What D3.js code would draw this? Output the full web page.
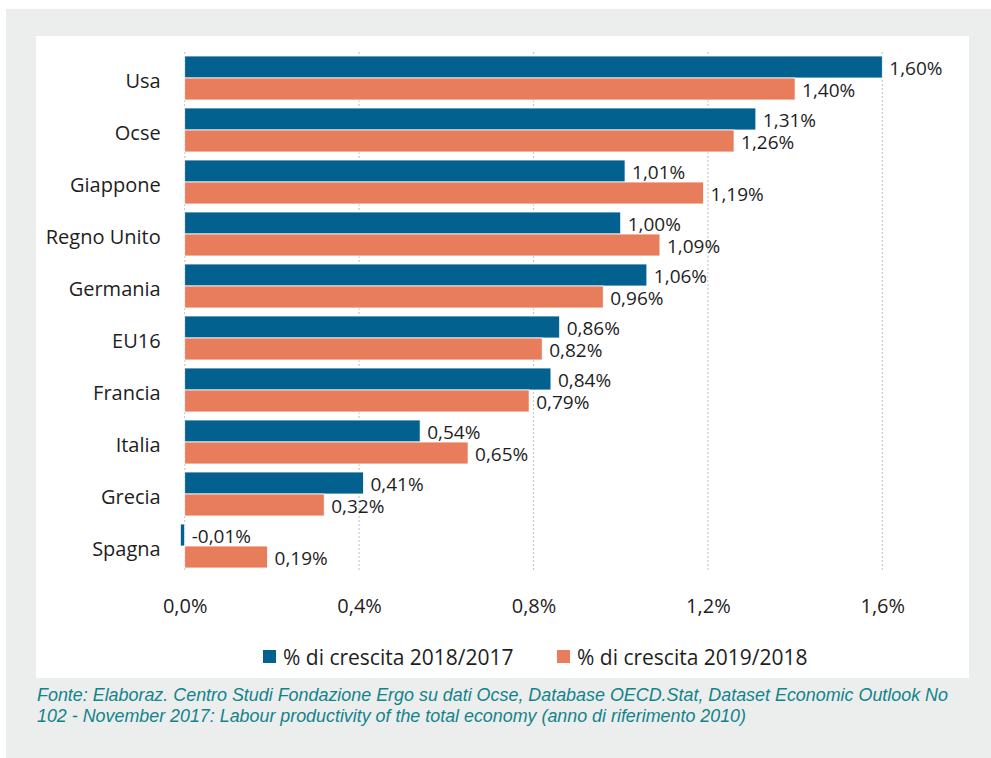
<!DOCTYPE html>
<html>
<head>
<meta charset="utf-8">
<script src="https://cdn.jsdelivr.net/npm/d3@7/dist/d3.min.js"></script>
<style>
  html, body { margin: 0; padding: 0; background: #ffffff; }
  svg { display: block; }
</style>
</head>
<body>
<script>
// Labour productivity growth by country
const categories = ["Usa", "Ocse", "Giappone", "Regno Unito", "Germania", "EU16", "Francia", "Italia", "Grecia", "Spagna"];
const growth2018 = [1.60, 1.31, 1.01, 1.00, 1.06, 0.86, 0.84, 0.54, 0.41, -0.01];
const growth2019 = [1.40, 1.26, 1.19, 1.09, 0.96, 0.82, 0.79, 0.65, 0.32, 0.19];
const seriesNames = ["% di crescita 2018/2017", "% di crescita 2019/2018"];
const xTicks = [0, 0.4, 0.8, 1.2, 1.6];
const sourceLines = [
  "Fonte: Elaboraz. Centro Studi Fondazione Ergo su dati Ocse, Database OECD.Stat, Dataset Economic Outlook No",
  "102 - November 2017: Labour productivity of the total economy (anno di riferimento 2010)"
];

const W = 991, H = 758;
const colors = ["#02618f", "#e87d5c"];
const textColor = "#1e1e1e";
const font = "'Open Sans', sans-serif";

// Italian number format, plain hyphen for negatives
const it = d3.formatLocale({ decimal: ",", thousands: ".", grouping: [3], currency: ["€", ""], minus: "-" });
const fmtValue = it.format(".2f");
const fmtTick = it.format(".1f");

const svg = d3.select("body").append("svg").attr("width", W).attr("height", H);

// page frame: grey surround and white chart panel
svg.append("rect").attr("x", 6).attr("y", 9).attr("width", W - 6).attr("height", H - 9).attr("fill", "#eceeed");
svg.append("rect").attr("x", 36).attr("y", 36).attr("width", 933).attr("height", 642).attr("fill", "#ffffff");

const plot = { left: 184.7, right: 882.3, top: 52, bottom: 572 };

const x = d3.scaleLinear().domain([0, 1.6]).range([plot.left, plot.right]);
const y = d3.scaleBand().domain(categories).range([plot.top, plot.bottom]).paddingInner(0.154).paddingOuter(0.077);
const ySub = d3.scaleBand().domain([0, 1]).range([0, y.bandwidth()]);

// dotted vertical gridlines
svg.append("g").selectAll("line").data(xTicks).join("line")
  .attr("x1", d => x(d)).attr("x2", d => x(d))
  .attr("y1", plot.top).attr("y2", plot.bottom)
  .attr("stroke", "#c9c9c9").attr("stroke-width", 1.2).attr("stroke-dasharray", "2,2");

// x axis tick labels
const xAxis = d3.axisBottom(x).tickValues(xTicks).tickSize(0).tickPadding(0).tickFormat(d => fmtTick(d) + "%");
const gx = svg.append("g").attr("transform", `translate(0, 599)`).call(xAxis);
gx.select(".domain").remove();
gx.selectAll("text").attr("font-family", font).attr("font-size", 20).attr("fill", textColor).attr("dy", "0.71em");

// category labels
svg.append("g").selectAll("text").data(categories).join("text")
  .attr("x", plot.left - 24)
  .attr("y", d => y(d) + y.bandwidth() / 2 + 10)
  .attr("text-anchor", "end")
  .attr("font-family", font).attr("font-size", 20).attr("fill", textColor)
  .text(d => d);

// bars and value labels
const rows = categories.map((c, i) => ({ cat: c, vals: [growth2018[i], growth2019[i]] }));
const groups = svg.append("g").selectAll("g").data(rows).join("g")
  .attr("transform", d => `translate(0, ${y(d.cat)})`);

groups.selectAll("rect").data(d => d.vals.map((v, s) => ({ v, s }))).join("rect")
  .attr("x", d => x(Math.min(0, d.v)))
  .attr("y", d => ySub(d.s))
  .attr("width", d => Math.abs(x(d.v) - x(0)))
  .attr("height", ySub.bandwidth())
  .attr("fill", d => colors[d.s])
  .attr("stroke", "#ffffff").attr("stroke-width", 0.8);

groups.selectAll("text").data(d => d.vals.map((v, s) => ({ v, s }))).join("text")
  .attr("x", d => Math.max(x(d.v), x(0)) + 7)
  .attr("y", d => ySub(d.s) + ySub.bandwidth() / 2 + (d.s === 0 ? 7.5 : 8.5))
  .attr("font-family", font).attr("font-size", 19).attr("fill", textColor)
  .text(d => fmtValue(d.v) + "%");

// legend
const legendX = [263, 557];
const legend = svg.append("g").selectAll("g").data(seriesNames).join("g")
  .attr("transform", (d, i) => `translate(${legendX[i]}, 650)`);
legend.append("rect").attr("width", 13).attr("height", 13).attr("fill", (d, i) => colors[i]);
legend.append("text").attr("x", 20).attr("y", 14.5)
  .attr("font-family", font).attr("font-size", 21).attr("fill", textColor)
  .text(d => d);

// source note
const lineLengths = [911, 709];
svg.append("g").selectAll("text").data(sourceLines).join("text")
  .attr("x", 37).attr("y", (d, i) => 701 + i * 20.5)
  .attr("font-family", "'Liberation Sans', Arial, sans-serif").attr("font-style", "italic")
  .attr("font-size", 18).attr("fill", "#12838b")
  .attr("textLength", (d, i) => lineLengths[i]).attr("lengthAdjust", "spacingAndGlyphs")
  .text(d => d);
</script>
</body>
</html>
